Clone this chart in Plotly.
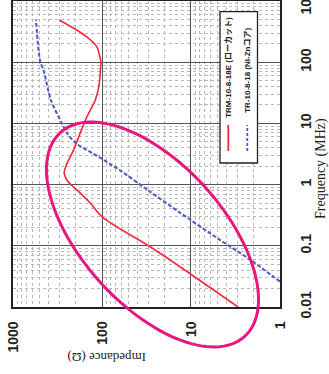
import numpy as np
import plotly.graph_objects as go

# ---------------- data ----------------
# Red curve: TRM-10-8-18E (ローカット)  -- frequency (MHz), impedance (ohm)
RED_FREQ = [0.01, 0.0455, 0.0964, 0.298, 0.499, 0.81, 1.10, 1.54, 2.08, 3.66, 6.93,
            12.8, 24, 42, 77, 100, 139, 178, 259, 333, 485]
RED_IMP = [2.96, 13.3, 28.8, 100, 136, 190, 239, 266, 252, 209, 176,
           148, 119, 108, 104, 103, 108, 114, 148, 191, 300]

# Blue dashed curve: TR-10-8-18 (Ni-Znコア)
BLUE_FREQ = [0.026, 0.063, 0.124, 0.343, 0.81, 1.43, 2.2, 3.2, 4.7, 6.5, 10,
             24, 74, 101, 200, 498]
BLUE_IMP = [1.0, 2.3, 4.7, 13.1, 30.5, 52.5, 82, 125, 195, 240, 282,
            375, 454, 494, 525, 552]

IMP_TICKS = [1000, 100, 10, 1]
IMP_TICK_TEXT = ["1000", "100", "10", "1"]
FREQ_TICKS = [0.01, 0.1, 1, 10, 100, 1000]
FREQ_TICK_TEXT = ["0.01", "0.1", "1", "10", "100", "1000"]

RED_NAME = "TRM-10-8-18E (ローカット)"
BLUE_NAME = "TR-10-8-18 (Ni-Znコア)"
X_TITLE = "Impedance (Ω)"
Y_TITLE = "Frequency (MHz)"

# ---------------- geometry helpers (pixels) ----------------
W, H = 329, 374
ML, MR, MT, MB = 13, 49, 1, 67
PW = W - ML - MR
PH = H - MT - MB


def px_x(x):
    return (x - ML) / PW


def px_y(y):
    return (H - MB - y) / PH


RED = "#EE2A3C"
BLUE = "#4A5BC4"
PINK = "#E8177D"

fig = go.Figure()
fig.add_trace(go.Scatter(x=RED_IMP, y=RED_FREQ, mode="lines",
                         line=dict(color=RED, width=1.6, shape="spline", smoothing=0.8),
                         showlegend=False, hoverinfo="skip"))
fig.add_trace(go.Scatter(x=BLUE_IMP, y=BLUE_FREQ, mode="lines",
                         line=dict(color=BLUE, width=2, dash="4px,2px", shape="spline", smoothing=0.8),
                         showlegend=False, hoverinfo="skip"))

tickfont = dict(family="Liberation Sans, Arial, sans-serif", size=14, color="#222", weight="bold")
common = dict(type="log", showline=True, mirror=True, linecolor="#222", linewidth=1.5,
              showgrid=True, gridcolor="#555", gridwidth=1.2, zeroline=False, automargin=False,
              ticks="", tickangle=-90, tickfont=tickfont, fixedrange=True, ticklabeloverflow="allow",
              minor=dict(dtick="D1", showgrid=True, gridcolor="#b8b8b8", griddash="dot", gridwidth=0.8))

fig.update_layout(
    template="none",
    width=W, height=H,
    margin=dict(l=ML, r=MR, t=MT, b=MB, pad=0),
    paper_bgcolor="white", plot_bgcolor="white",
    xaxis=dict(range=[3.0002, -0.0002], tickmode="array", tickvals=IMP_TICKS, ticktext=IMP_TICK_TEXT,
               ticklabelstandoff=7, **common),
    yaxis=dict(range=[-2.0002, 3.0002], side="right", tickmode="array", tickvals=FREQ_TICKS,
               ticktext=FREQ_TICK_TEXT, ticklabelstandoff=12, **common),
    showlegend=False,
)

# axis titles (rotated like the scanned page)
fig.add_annotation(x=px_x(107), y=px_y(358), xref="paper", yref="paper", text=X_TITLE,
                   showarrow=False, textangle=180, xanchor="center", yanchor="middle",
                   font=dict(family="Liberation Serif, Times New Roman, serif", size=13, color="#222"))
fig.add_annotation(x=px_x(321), y=px_y(169), xref="paper", yref="paper", text=Y_TITLE,
                   showarrow=False, textangle=-90, xanchor="center", yanchor="middle",
                   font=dict(family="Liberation Serif, Times New Roman, serif", size=14, color="#222"))

# legend box
shapes = [dict(type="rect", xref="paper", yref="paper", x0=px_x(220), x1=px_x(257.5),
               y0=px_y(163), y1=px_y(11.7), line=dict(color="#222", width=1.3),
               fillcolor="white", layer="above")]
shapes.append(dict(type="line", xref="paper", yref="paper", x0=px_x(228.3), x1=px_x(228.3),
                   y0=px_y(151), y1=px_y(125), line=dict(color=RED, width=1.8), layer="above"))
shapes.append(dict(type="line", xref="paper", yref="paper", x0=px_x(247.3), x1=px_x(247.3),
                   y0=px_y(151), y1=px_y(125), line=dict(color=BLUE, width=1.8, dash="3px,2px"),
                   layer="above"))
legfont = dict(family="Liberation Sans, Noto Sans CJK JP, sans-serif", size=8, color="#222", weight="bold")
fig.add_annotation(x=px_x(228.3), y=px_y(67.5), xref="paper", yref="paper", text=RED_NAME,
                   showarrow=False, textangle=-90, xanchor="center", yanchor="middle", font=legfont)
fig.add_annotation(x=px_x(247.3), y=px_y(70.5), xref="paper", yref="paper", text=BLUE_NAME,
                   showarrow=False, textangle=-90, xanchor="center", yanchor="middle", font=legfont)

# hand-drawn highlight ellipse (pixel geometry)
ELL_CX, ELL_CY = 152.5, 234.5
ELL_A, ELL_B = 137.4, 70.8
ELL_ANGLE = np.deg2rad(47.9)
t = np.linspace(0, 2 * np.pi, 121)
ex = ELL_CX + ELL_A * np.cos(t) * np.cos(ELL_ANGLE) - ELL_B * np.sin(t) * np.sin(ELL_ANGLE)
ey = ELL_CY + ELL_A * np.cos(t) * np.sin(ELL_ANGLE) + ELL_B * np.sin(t) * np.cos(ELL_ANGLE)
path = "M " + " L ".join(f"{px_x(a):.4f},{px_y(b):.4f}" for a, b in zip(ex, ey)) + " Z"
shapes.append(dict(type="path", xref="paper", yref="paper", path=path,
                   line=dict(color=PINK, width=3), layer="above"))

fig.update_layout(shapes=shapes)
fig.write_html("out.html", config={"displayModeBar": False},
               post_script="document.body.style.margin='0';document.body.style.padding='0';"
                           "document.body.style.overflow='hidden';")
